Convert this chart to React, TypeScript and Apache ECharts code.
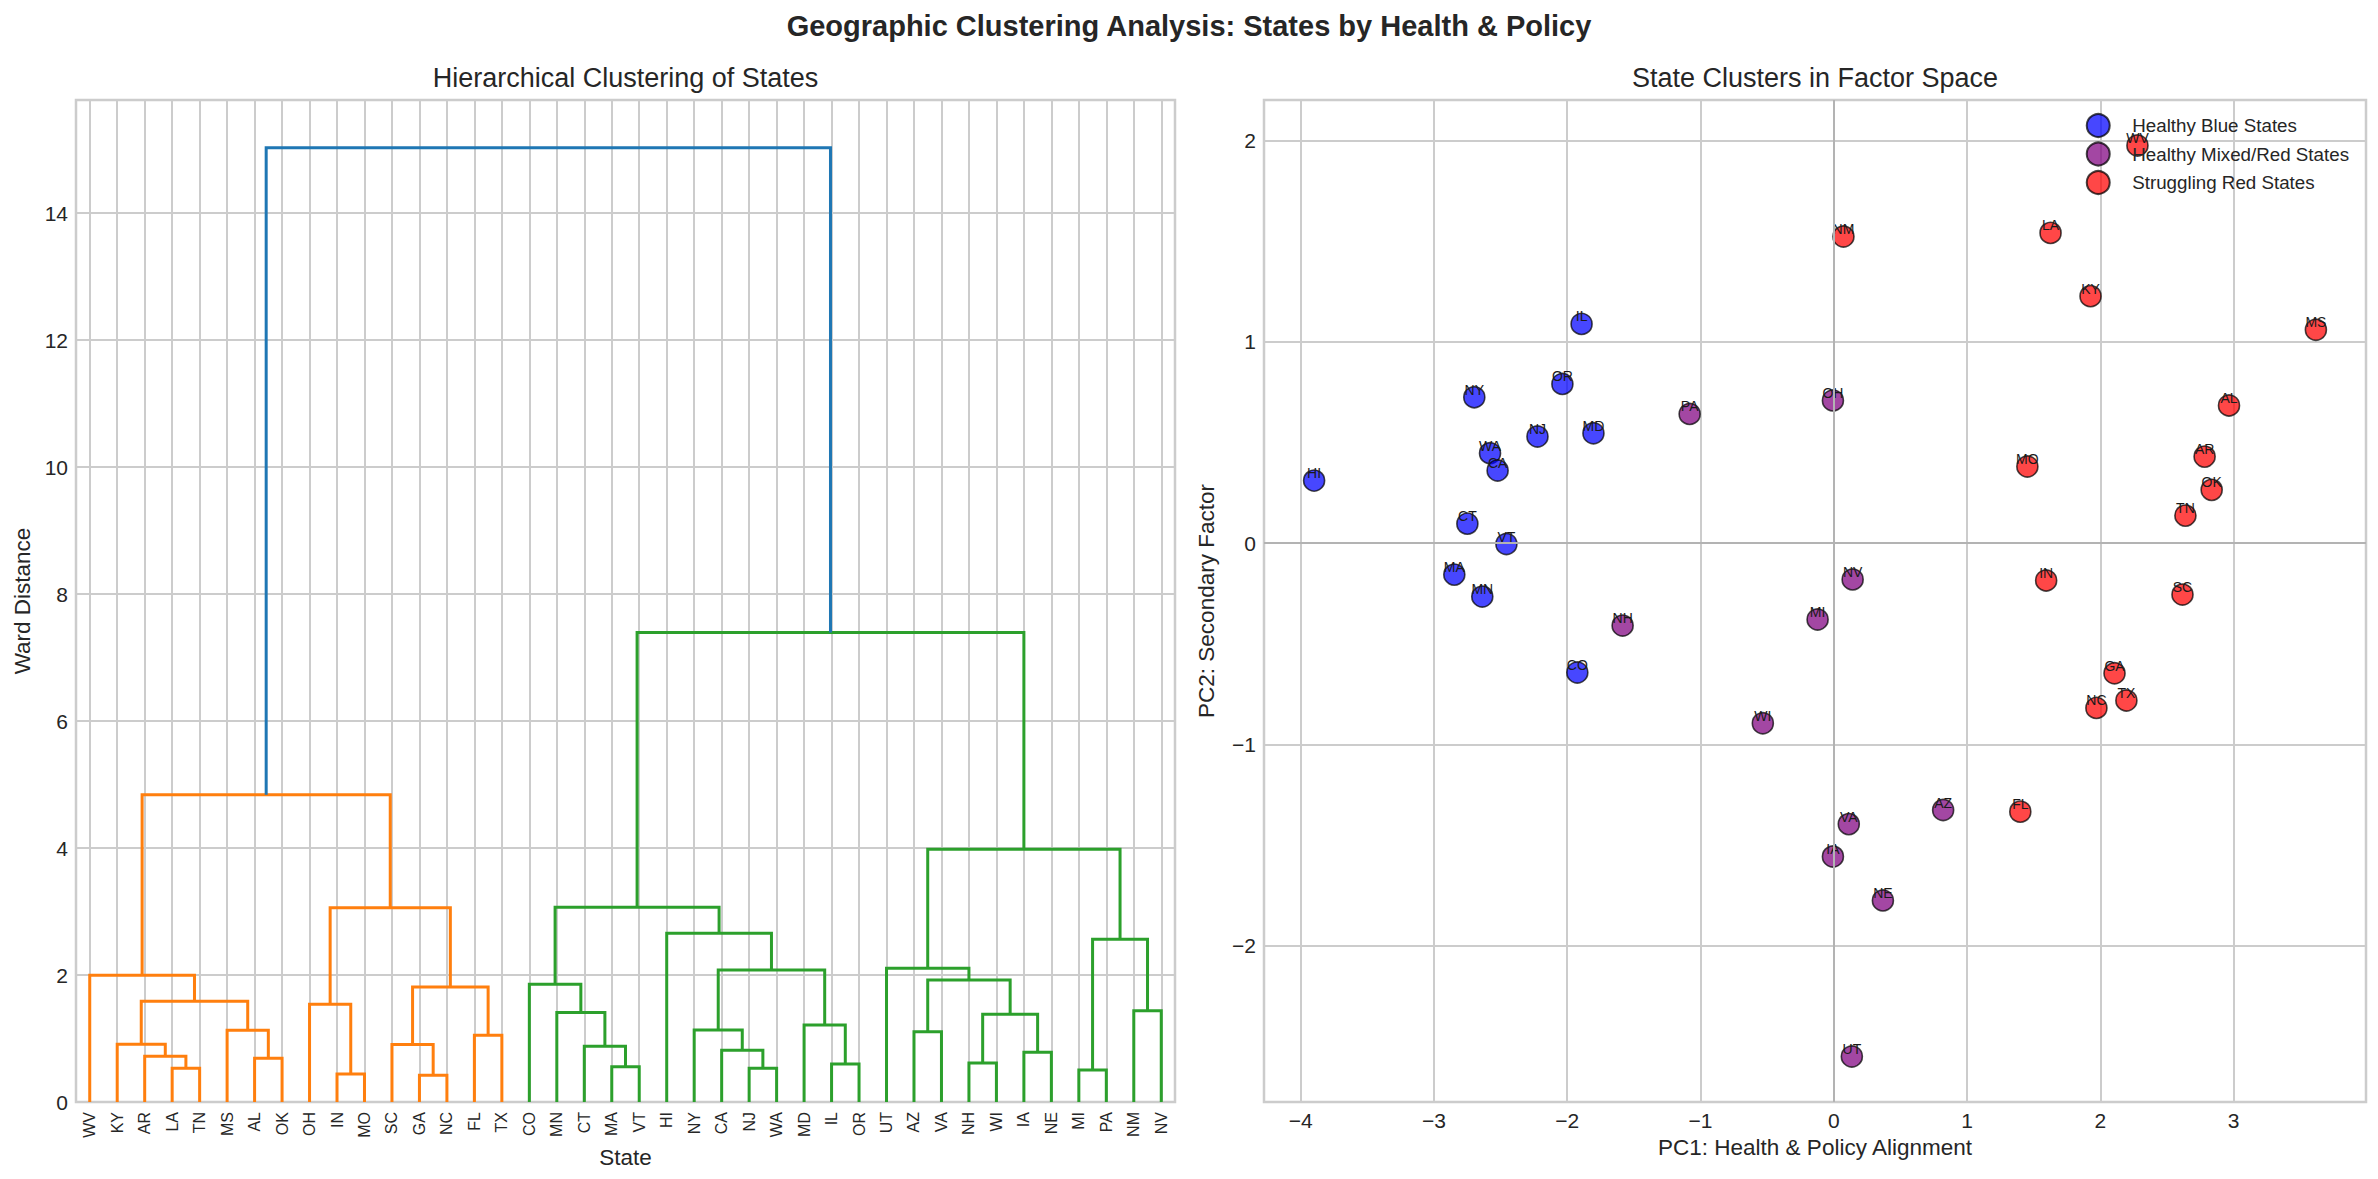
import React, { useEffect, useRef } from 'react';
import * as echarts from 'echarts';

const FONT = '"Liberation Sans", Arial, Helvetica, sans-serif';
const TEXT = '#262626';
const GRIDC = '#cccccc';

// ---------- Dendrogram data ----------
const leafLabels = [
  'WV', 'KY', 'AR', 'LA', 'TN', 'MS', 'AL', 'OK', 'OH', 'IN', 'MO', 'SC', 'GA', 'NC', 'FL', 'TX',
  'CO', 'MN', 'CT', 'MA', 'VT', 'HI', 'NY', 'CA', 'NJ', 'WA', 'MD', 'IL', 'OR', 'UT', 'AZ', 'VA',
  'NH', 'WI', 'IA', 'NE', 'MI', 'PA', 'NM', 'NV',
];

// [left child, right child, Ward distance]; strings are leaves, numbers refer to earlier merges
const linkage: [string | number, string | number, number][] = [
  ['LA', 'TN', 0.53],
  ['AR', 0, 0.72],
  ['KY', 1, 0.91],
  ['AL', 'OK', 0.69],
  ['MS', 3, 1.13],
  [2, 4, 1.585],
  ['WV', 5, 1.995],
  ['IN', 'MO', 0.44],
  ['OH', 7, 1.54],
  ['GA', 'NC', 0.42],
  ['SC', 9, 0.905],
  ['FL', 'TX', 1.05],
  [10, 11, 1.81],
  [8, 12, 3.06],
  [6, 13, 4.84],
  ['MA', 'VT', 0.556],
  ['CT', 15, 0.88],
  ['MN', 16, 1.41],
  ['CO', 17, 1.853],
  ['NJ', 'WA', 0.53],
  ['CA', 19, 0.814],
  ['NY', 20, 1.134],
  ['IL', 'OR', 0.598],
  ['MD', 22, 1.213],
  [21, 23, 2.079],
  ['HI', 24, 2.656],
  [18, 25, 3.066],
  ['AZ', 'VA', 1.108],
  ['NH', 'WI', 0.614],
  ['IA', 'NE', 0.782],
  [28, 29, 1.381],
  [27, 30, 1.921],
  ['UT', 31, 2.105],
  ['MI', 'PA', 0.504],
  ['NM', 'NV', 1.438],
  [33, 34, 2.562],
  [32, 35, 3.979],
  [26, 36, 7.396],
  [14, 37, 15.03],
];

const linkPalette = ['#ff7f0e', '#2ca02c', '#d62728', '#9467bd', '#8c564b'];
const aboveThresholdColor = '#1f77b4';
const wardTicks = [0, 2, 4, 6, 8, 10, 12, 14];

// ---------- Scatter data ----------
const blueStates = ['HI', 'NY', 'WA', 'CA', 'CT', 'VT', 'MA', 'MN', 'CO', 'NJ', 'MD', 'IL', 'OR'];
const blueX = [-3.899, -2.697, -2.579, -2.522, -2.749, -2.456, -2.847, -2.637, -1.924, -2.223, -1.803, -1.892, -2.036];
const blueY = [0.311, 0.725, 0.447, 0.361, 0.097, -0.004, -0.156, -0.265, -0.642, 0.530, 0.546, 1.089, 0.791];

const purpleStates = ['PA', 'OH', 'NH', 'MI', 'NV', 'WI', 'VA', 'IA', 'AZ', 'NE', 'UT'];
const purpleX = [-1.081, -0.006, -1.584, -0.121, 0.142, -0.532, 0.113, -0.006, 0.821, 0.369, 0.136];
const purpleY = [0.642, 0.709, -0.409, -0.379, -0.180, -0.894, -1.395, -1.556, -1.325, -1.774, -2.549];

const redStates = ['NM', 'WV', 'LA', 'KY', 'MS', 'AL', 'MO', 'AR', 'OK', 'TN', 'IN', 'SC', 'GA', 'TX', 'NC', 'FL'];
const redX = [0.073, 2.279, 1.627, 1.927, 3.618, 2.966, 1.453, 2.783, 2.836, 2.639, 1.594, 2.617, 2.107, 2.196, 1.971, 1.400];
const redY = [1.523, 1.975, 1.541, 1.227, 1.060, 0.684, 0.381, 0.430, 0.265, 0.137, -0.185, -0.255, -0.646, -0.781, -0.818, -1.333];

const clusterNames = ['Healthy Blue States', 'Healthy Mixed/Red States', 'Struggling Red States'];
const clusterColors = ['rgba(0,0,255,0.72)', 'rgba(128,0,128,0.72)', 'rgba(255,0,0,0.72)'];

const pcXRange = [-4.275, 3.994];
const pcYRange = [-2.775, 2.201];

function buildLinks() {
  const n = linkage.length;
  const nodeX: number[] = [];
  const nodeH: number[] = [];
  const info = (c: string | number) =>
    typeof c === 'string'
      ? { x: leafLabels.indexOf(c) * 10 + 5, h: 0 }
      : { x: nodeX[c], h: nodeH[c] };
  linkage.forEach(([a, b, h], i) => {
    const A = info(a);
    const B = info(b);
    nodeX[i] = (A.x + B.x) / 2;
    nodeH[i] = h;
  });
  const maxH = Math.max(...nodeH);
  const threshold = 0.7 * maxH;
  const colorOf: number[] = new Array(n).fill(-1);
  let next = 0;
  const assign = (i: number, c: number) => {
    colorOf[i] = c;
    linkage[i].slice(0, 2).forEach((ch) => {
      if (typeof ch === 'number') assign(ch, c);
    });
  };
  const walk = (i: number) => {
    if (nodeH[i] < threshold) {
      assign(i, next++);
    } else {
      colorOf[i] = -1;
      linkage[i].slice(0, 2).forEach((ch) => {
        if (typeof ch === 'number') walk(ch);
      });
    }
  };
  walk(n - 1);
  const links = linkage.map(([a, b, h], i) => {
    const A = info(a);
    const B = info(b);
    return [A.x, A.h, B.x, B.h, h, colorOf[i]];
  });
  return { links, maxH };
}

const minus = (v: number) => String(v).replace('-', '\u2212');

export default function App() {
  const ref = useRef<HTMLDivElement>(null);
  useEffect(() => {
    if (!ref.current) return;
    const chart = echarts.init(ref.current, undefined, { renderer: 'svg' });
    const { links, maxH } = buildLinks();

    const L = { left: 76, top: 100, width: 1099, height: 1002 };
    const R = { left: 1264, top: 100, width: 1102, height: 1002 };

    const mkScatter = (names: string[], xs: number[], ys: number[], idx: number) => ({
      type: 'scatter',
      name: clusterNames[idx],
      xAxisIndex: 2,
      yAxisIndex: 1,
      z: 3,
      symbol: 'circle',
      symbolSize: 21,
      itemStyle: { color: clusterColors[idx], borderColor: 'rgba(0,0,0,0.72)', borderWidth: 1.6, opacity: 1 },
      label: {
        show: true,
        position: 'inside',
        offset: [0, -7.5],
        formatter: (p: any) => p.data[2],
        fontFamily: FONT,
        fontSize: 14,
        color: '#1a1a1a',
      },
      emphasis: { disabled: true },
      data: names.map((s, i) => [xs[i], ys[i], s]),
    });

    const option: any = {
      animation: false,
      backgroundColor: '#ffffff',
      textStyle: { fontFamily: FONT },
      graphic: [
        {
          type: 'text', x: 1189, y: 26,
          style: {
            text: 'Geographic Clustering Analysis: States by Health & Policy',
            font: `bold 29px ${FONT}`, fill: TEXT, textAlign: 'center', textVerticalAlign: 'middle',
          },
        },
        {
          type: 'text', x: L.left + L.width / 2, y: 78,
          style: {
            text: 'Hierarchical Clustering of States',
            font: `27px ${FONT}`, fill: TEXT, textAlign: 'center', textVerticalAlign: 'middle',
          },
        },
        {
          type: 'text', x: R.left + R.width / 2, y: 78,
          style: {
            text: 'State Clusters in Factor Space',
            font: `27px ${FONT}`, fill: TEXT, textAlign: 'center', textVerticalAlign: 'middle',
          },
        },
      ],
      legend: {
        data: clusterNames,
        orient: 'vertical',
        align: 'left',
        right: 29,
        top: 113,
        padding: 0,
        itemWidth: 58,
        itemHeight: 23,
        itemGap: 3.5,
        icon: 'circle',
        selectedMode: false,
        textStyle: { fontFamily: FONT, fontSize: 18.75, color: TEXT },
      },
      grid: [
        { ...L, show: true, borderColor: GRIDC, borderWidth: 2.5, backgroundColor: '#fff' },
        { ...R, show: true, borderColor: GRIDC, borderWidth: 2.5, backgroundColor: '#fff' },
      ],
      xAxis: [
        {
          type: 'category',
          gridIndex: 0,
          data: leafLabels,
          boundaryGap: true,
          axisLine: { show: false },
          axisTick: { show: false },
          axisLabel: { interval: 0, rotate: 90, margin: 10, fontSize: 16, color: TEXT, fontFamily: FONT },
          splitLine: { show: true, interval: 0, alignWithLabel: true, lineStyle: { color: GRIDC, width: 2 } },
          name: 'State',
          nameLocation: 'middle',
          nameGap: 40,
          nameTextStyle: { fontSize: 22.5, color: TEXT, fontFamily: FONT },
        },
        {
          type: 'value',
          gridIndex: 0,
          min: 0,
          max: leafLabels.length * 10,
          show: false,
          splitLine: { show: false },
        },
        {
          type: 'value',
          gridIndex: 1,
          min: pcXRange[0],
          max: pcXRange[1],
          minInterval: 1,
          maxInterval: 1,
          axisLine: { show: false },
          axisTick: { show: false },
          axisLabel: {
            showMinLabel: false, showMaxLabel: false, margin: 8, fontSize: 21, color: TEXT, fontFamily: FONT,
            formatter: (v: number) => minus(v),
          },
          splitLine: { show: true, lineStyle: { color: GRIDC, width: 2 } },
          name: 'PC1: Health & Policy Alignment',
          nameLocation: 'middle',
          nameGap: 34,
          nameTextStyle: { fontSize: 22.5, color: TEXT, fontFamily: FONT },
        },
      ],
      yAxis: [
        {
          type: 'value',
          gridIndex: 0,
          min: 0,
          max: +(maxH * 1.05).toFixed(3),
          interval: wardTicks[1] - wardTicks[0],
          axisLine: { show: false },
          axisTick: { show: false },
          axisLabel: { showMaxLabel: false, margin: 8, fontSize: 21, color: TEXT, fontFamily: FONT },
          splitLine: { show: true, lineStyle: { color: GRIDC, width: 2 } },
          name: 'Ward Distance',
          nameLocation: 'middle',
          nameGap: 42,
          nameTextStyle: { fontSize: 22.5, color: TEXT, fontFamily: FONT },
        },
        {
          type: 'value',
          gridIndex: 1,
          min: pcYRange[0],
          max: pcYRange[1],
          minInterval: 1,
          maxInterval: 1,
          axisLine: { show: false },
          axisTick: { show: false },
          axisLabel: {
            showMinLabel: false, showMaxLabel: false, margin: 8, fontSize: 21, color: TEXT, fontFamily: FONT,
            formatter: (v: number) => minus(v),
          },
          splitLine: { show: true, lineStyle: { color: GRIDC, width: 2 } },
          name: 'PC2: Secondary Factor',
          nameLocation: 'middle',
          nameGap: 46,
          nameTextStyle: { fontSize: 22.5, color: TEXT, fontFamily: FONT },
        },
      ],
      series: [
        {
          type: 'custom',
          name: 'dendrogram',
          xAxisIndex: 1,
          yAxisIndex: 0,
          z: 2,
          encode: { x: [0, 2], y: [1, 3, 4] },
          data: links,
          renderItem: (params: any, api: any) => {
            const x1 = api.value(0), h1 = api.value(1), x2 = api.value(2), h2 = api.value(3);
            const h = api.value(4), ci = api.value(5);
            const pts = [api.coord([x1, h1]), api.coord([x1, h]), api.coord([x2, h]), api.coord([x2, h2])];
            return {
              type: 'polyline',
              shape: { points: pts },
              style: {
                stroke: ci < 0 ? aboveThresholdColor : linkPalette[ci % linkPalette.length],
                lineWidth: 3,
                fill: null,
              },
            };
          },
        },
        {
          type: 'line',
          name: 'zero-lines',
          xAxisIndex: 2,
          yAxisIndex: 1,
          data: [],
          z: 1,
          silent: true,
          markLine: {
            silent: true,
            symbol: 'none',
            label: { show: false },
            lineStyle: { color: '#b3b3b3', width: 2, type: 'solid' },
            data: [{ yAxis: 0 }, { xAxis: 0 }],
          },
        },
        mkScatter(blueStates, blueX, blueY, 0),
        mkScatter(purpleStates, purpleX, purpleY, 1),
        mkScatter(redStates, redX, redY, 2),
      ],
    };
    chart.setOption(option);
    return () => chart.dispose();
  }, []);

  return (
    <div
      ref={ref}
      style={{ position: 'absolute', left: 0, top: 0, width: 2378, height: 1179, background: '#fff' }}
    />
  );
}
